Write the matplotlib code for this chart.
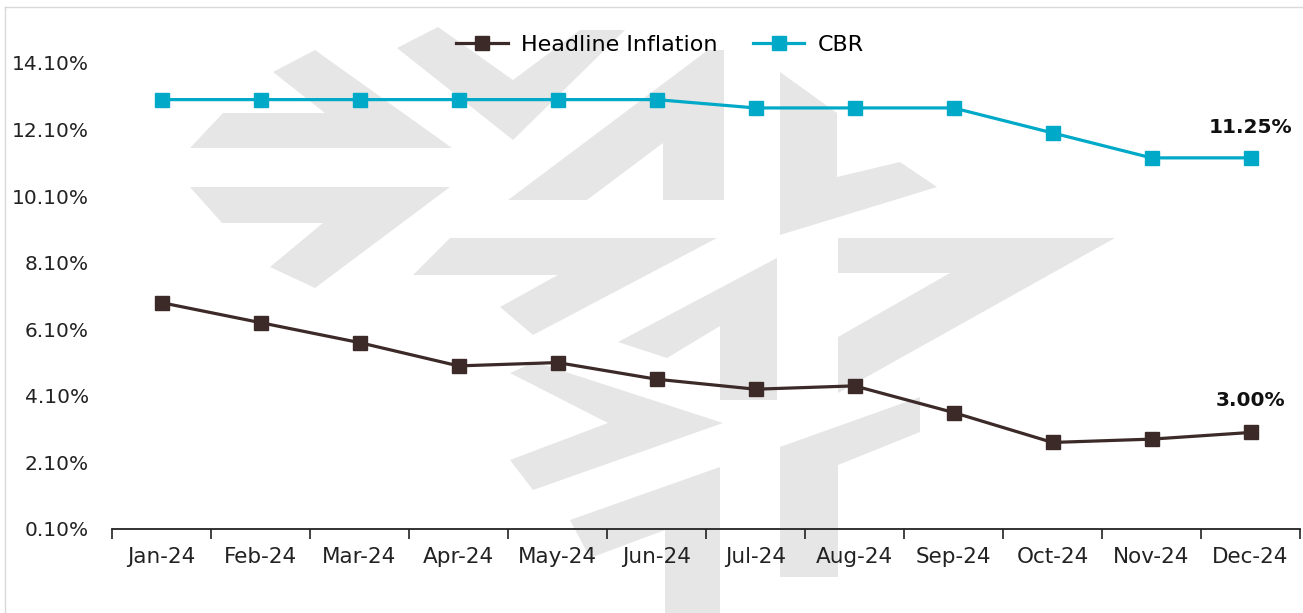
import matplotlib
matplotlib.use("Agg")
import matplotlib.pyplot as plt
from matplotlib.patches import Polygon
from matplotlib.lines import Line2D

months = ["Jan-24", "Feb-24", "Mar-24", "Apr-24", "May-24", "Jun-24",
          "Jul-24", "Aug-24", "Sep-24", "Oct-24", "Nov-24", "Dec-24"]
inflation = [6.9, 6.3, 5.7, 5.0, 5.1, 4.6, 4.3, 4.4, 3.6, 2.7, 2.8, 3.0]
cbr = [13.0, 13.0, 13.0, 13.0, 13.0, 13.0, 12.75, 12.75, 12.75, 12.0, 11.25, 11.25]
yticks = [0.1, 2.1, 4.1, 6.1, 8.1, 10.1, 12.1, 14.1]
ytick_labels = ["0.10%", "2.10%", "4.10%", "6.10%", "8.10%", "10.10%", "12.10%", "14.10%"]
end_labels = ["3.00%", "11.25%"]

W, H = 1303, 613
plt.rcParams['font.family'] = ['DejaVu Sans']
fig = plt.figure(figsize=(W / 100, H / 100), dpi=100)

# watermark (decorative background logo), pixel coords (x right, y down)
wm = [
    [(273, 72), (315, 50), (452, 148), (190, 148), (223, 113), (325, 113)],
    [(190, 187), (450, 187), (315, 288), (270, 267), (323, 223), (222, 223)],
    [(397, 48), (438, 27), (513, 80), (580, 30), (625, 30), (513, 140)],
    [(508, 200), (587, 200), (663, 143), (663, 200), (724, 200), (724, 50), (708, 50)],
    [(780, 72), (837, 113), (837, 177), (900, 162), (937, 187), (780, 235)],
    [(838, 238), (1115, 238), (838, 393), (838, 337), (950, 273), (838, 273)],
    [(450, 238), (717, 238), (533, 335), (500, 307), (558, 275), (413, 275)],
    [(618, 342), (777, 258), (777, 400), (720, 400), (720, 326), (667, 358)],
    [(510, 373), (535, 362), (723, 423), (533, 490), (510, 460), (608, 423)],
    [(570, 520), (720, 467), (720, 613), (665, 613), (665, 530), (590, 558)],
    [(780, 577), (780, 447), (920, 397), (920, 432), (838, 465), (838, 577)],
]
for poly in wm:
    pts = [(x / W, 1 - y / H) for x, y in poly]
    fig.patches.append(Polygon(pts, closed=True, transform=fig.transFigure,
                               facecolor="#E6E6E6", edgecolor="none", zorder=-2))

# light chart border
fig.lines.append(Line2D([5 / W, 5 / W], [0, 1 - 7 / H], transform=fig.transFigure,
                        color="#D9D9D9", lw=1, zorder=-1))
fig.lines.append(Line2D([5 / W, 1], [1 - 7 / H, 1 - 7 / H], transform=fig.transFigure,
                        color="#D9D9D9", lw=1, zorder=-1))

left, right = 112 / W, 1300 / W
bottom, top = 1 - 529 / H, 1 - 63 / H
ax = fig.add_axes([left, bottom, right - left, top - bottom])
ax.set_facecolor("none")

x = list(range(len(months)))
c_inf = "#3B2A27"
c_cbr = "#00A9C7"
ax.plot(x, inflation, color=c_inf, lw=2.3, marker="s", ms=9.5, label="Headline Inflation",
        clip_on=False, zorder=3)
ax.plot(x, cbr, color=c_cbr, lw=2.3, marker="s", ms=9.5, label="CBR",
        clip_on=False, zorder=3)

ax.set_xlim(-0.5, len(months) - 0.5)
ax.set_ylim(0.1, 14.1)
ax.set_yticks(yticks)
ax.set_yticklabels(ytick_labels)
ax.set_xticks(x)
ax.set_xticklabels(months)
ax.set_xticks([i - 0.5 for i in range(len(months) + 1)], minor=True)
ax.tick_params(axis="x", which="major", length=0, pad=13, labelsize=15.5, colors="#222222")
ax.tick_params(axis="x", which="minor", length=7, width=1.2, direction="out", color="#222222")
ax.tick_params(axis="y", length=0, pad=16.5, labelsize=14.5, colors="#222222")
for s in ["top", "right", "left"]:
    ax.spines[s].set_visible(False)
ax.spines["bottom"].set_color("#222222")
ax.spines["bottom"].set_linewidth(1.3)

ax.annotate(end_labels[0], (x[-1], inflation[-1]), xytext=(0, 23), textcoords="offset points",
            ha="center", va="center", fontsize=14.5, fontweight="bold", color="#111111")
ax.annotate(end_labels[1], (x[-1], cbr[-1]), xytext=(0, 22), textcoords="offset points",
            ha="center", va="center", fontsize=14.5, fontweight="bold", color="#111111")

fig.legend(loc="center", bbox_to_anchor=(660 / W, 1 - 45 / H), ncol=2, frameon=False,
           fontsize=16, handlelength=2.3, columnspacing=1.6, handletextpad=0.6)

fig.savefig("out.png", dpi=100)
